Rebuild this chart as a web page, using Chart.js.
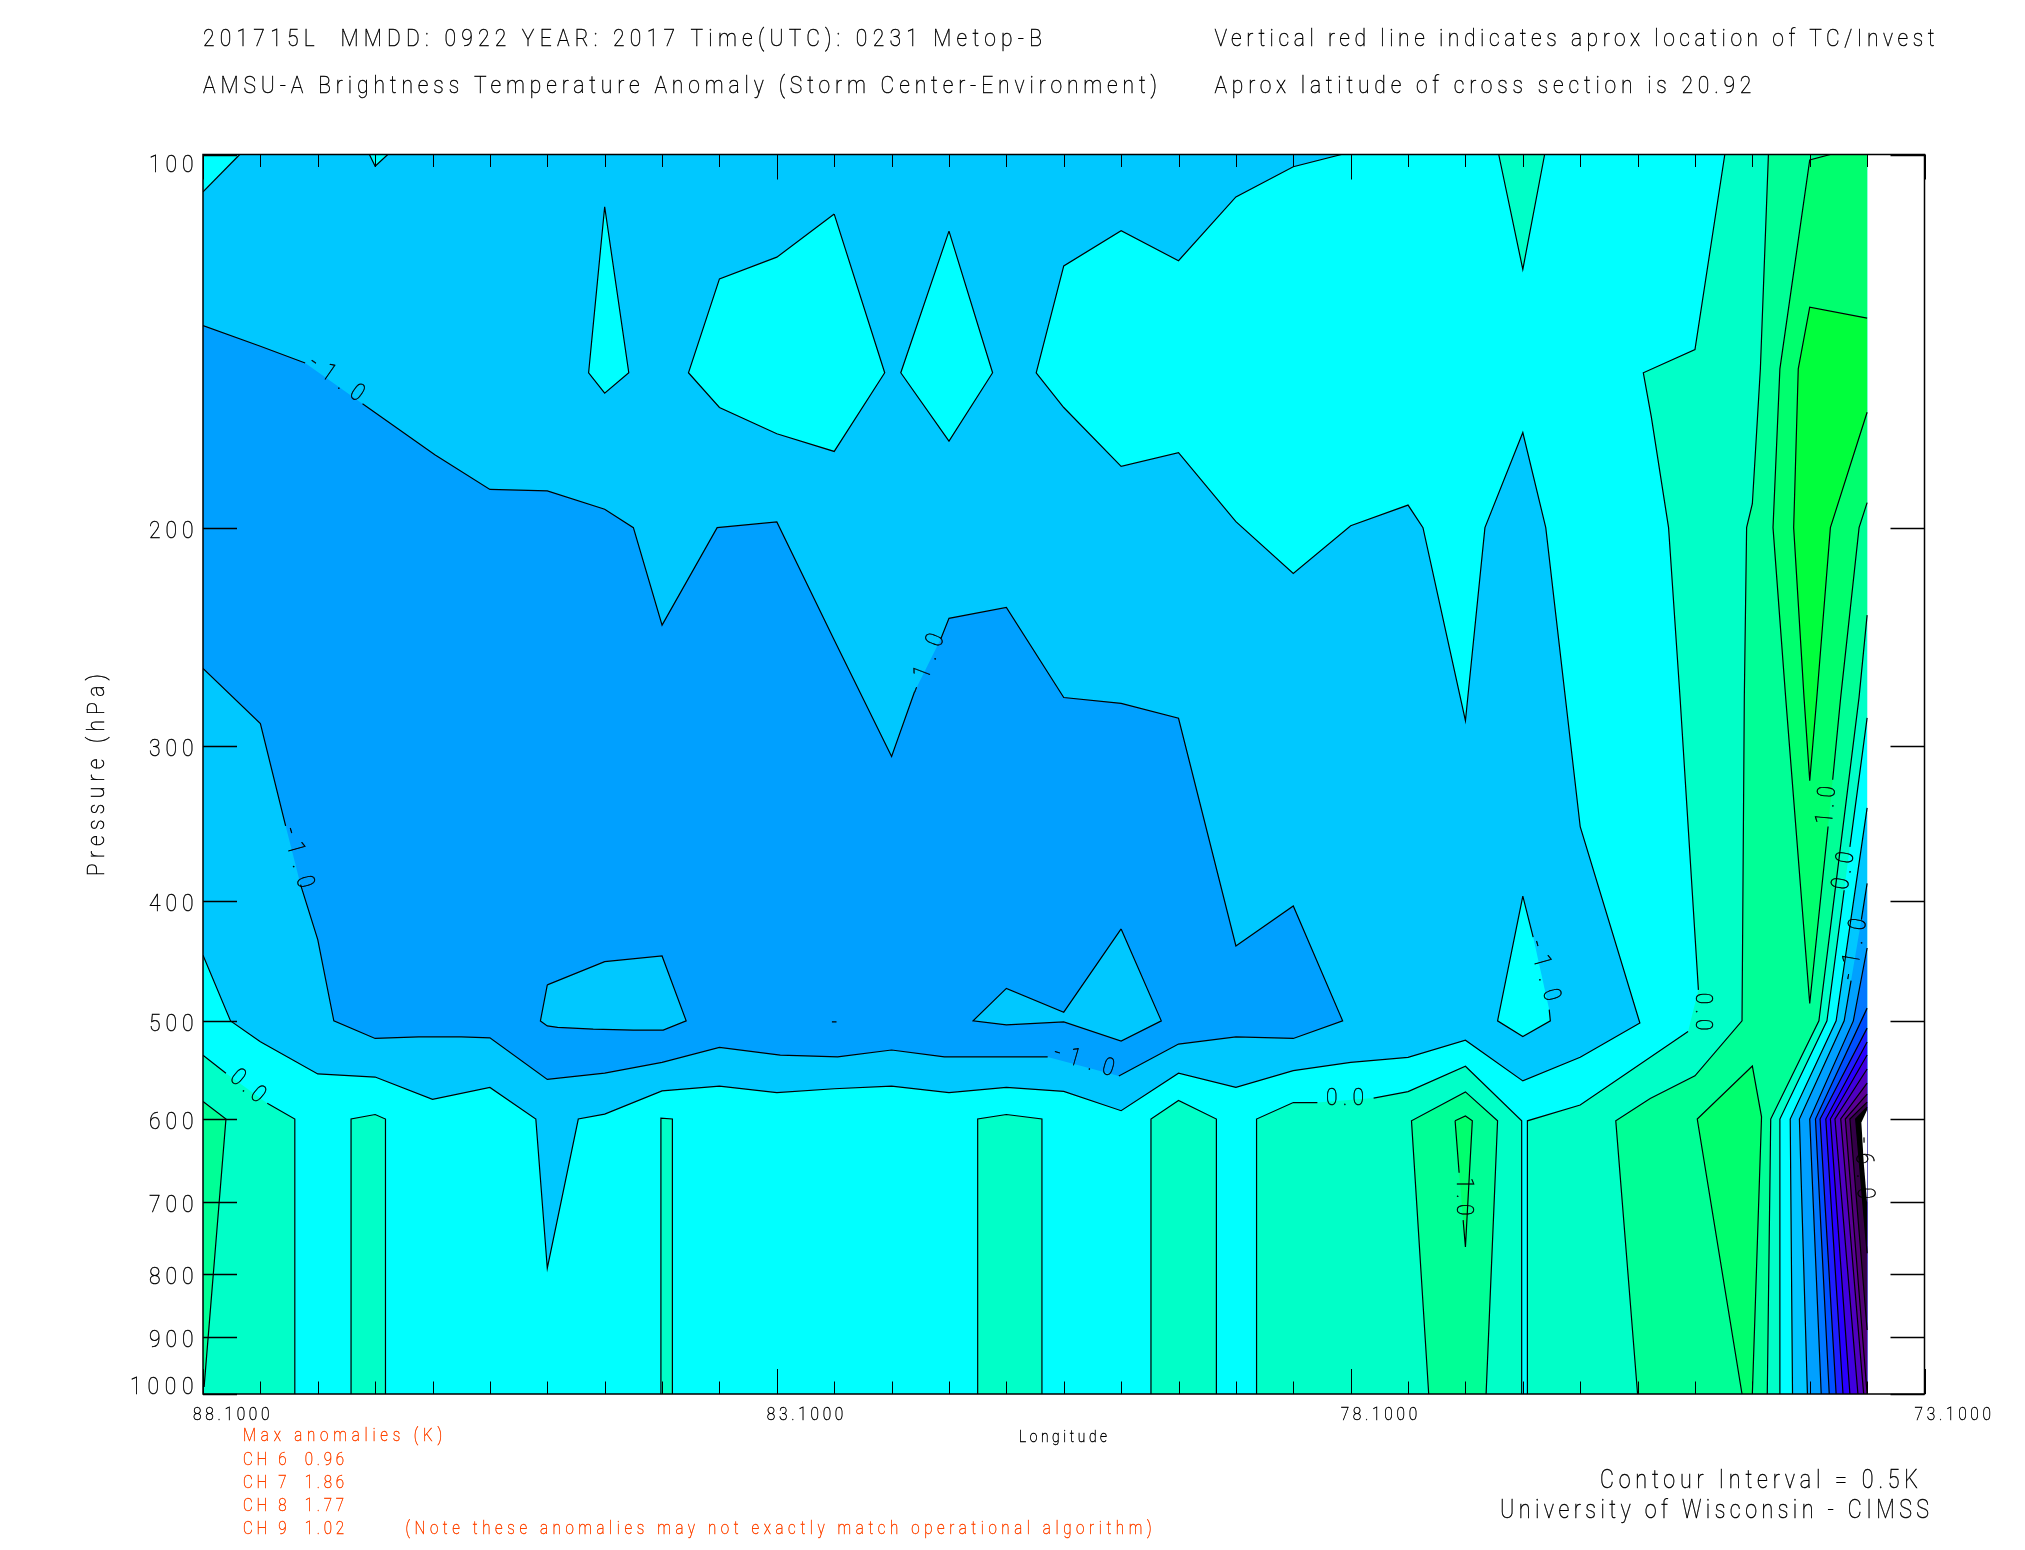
<!DOCTYPE html>
<html>
<head>
<meta charset="utf-8">
<title>AMSU-A Brightness Temperature Anomaly</title>
<script src="https://cdn.jsdelivr.net/npm/chart.js@4"></script>
<style>
html, body { margin: 0; padding: 0; background: #fff; }
#wrap { width: 2025px; height: 1550px; }
</style>
</head>
<body>
<div id="wrap"><canvas id="myChart" width="2025" height="1550"></canvas></div>
<script>
// axis values
var lonMin = 73.1, lonMax = 88.1, lonDataEnd = 73.6;
var presMin = 100, presMax = 1000;
var presTicks = [100, 200, 300, 400, 500, 600, 700, 800, 900, 1000];
var lonMajor = [88.1, 83.1, 78.1, 73.1];
var lonMinor = [87.6, 87.1, 86.6, 86.1, 85.6, 85.1, 84.6, 84.1, 83.6, 82.6, 82.1, 81.6, 81.1, 80.6, 80.1, 79.6, 79.1, 78.6, 77.6, 77.1, 76.6, 76.1, 75.6, 75.1, 74.6, 74.1, 73.6];

// contours as [longitude, pressure], null = gap in the line where a label sits
var dataBox = [[88.1, 100], [73.6, 100], [73.6, 1000], [88.1, 1000]];

// -0.5 K
var m05Main = [[78.18, 100], [78.6, 102.3], [79.1, 108.2], [79.6, 121.8], [80.1, 115.2], [80.6, 123], [80.84, 150], [80.6, 160], [80.1, 178.5], [79.6, 174], [79.1, 197.8], [78.6, 217.8], [78.1, 199.3], [77.6, 191.8], [77.47, 200], [77.1, 286.3], [76.93, 200], [76.6, 167.6], [76.4, 200], [76.1, 348.5], [75.58, 502], [76.1, 535], [76.6, 559], [77.1, 518.3], [77.6, 535], [78.1, 540], [78.6, 548.5], [79.1, 565.8], [79.6, 551], [80.1, 590.8], [80.6, 570], [81.1, 565.8], [81.6, 571.2], [82.1, 564.5], [82.6, 567.2], [83.1, 571.2], [83.6, 564.5], [84.1, 569.5], [84.6, 594.6], [84.83, 600], [85.1, 791.6], [85.2, 600], [85.6, 565.8], [86.1, 578.5], [86.6, 555], [87.1, 551.8], [87.6, 519.7], [87.86, 500], [88.1, 442.5]];
var m05MainClose = [[88.1, 1000], [73.6, 1000], [73.6, 100]];
var m05Corner = [[88.1, 107.2], [87.78, 100]];
var m05CornerClose = [[88.1, 100]];
var m05Notch = [[86.65, 100], [86.6, 102.2], [86.49, 100]];
var m05Spike = [[84.6, 110.2], [84.39, 150], [84.6, 155.8], [84.74, 150], [84.6, 110.2]];
var m05Blob = [[82.6, 111.7], [83.1, 121], [83.6, 126], [83.87, 150], [83.6, 160], [83.1, 168], [82.6, 173.6], [82.16, 150], [82.6, 111.7]];
var m05Diamond = [[81.6, 115.3], [81.22, 150], [81.6, 170.3], [82.02, 150], [81.6, 115.3]];
var m05Island = [[76.6, 396.5], [76.51, 427.9], null, [76.37, 489.7], [76.36, 500], [76.6, 514.7], [76.82, 500], [76.6, 396.5]];

// 0 K
var p00Left = [[88.1, 533], [87.9, 551], null, [87.54, 582.6], [87.3, 600], [87.3, 1000]];
var p00LeftClose = [[88.1, 1000]];
var p00A = [[86.81, 1000], [86.81, 600], [86.6, 595], [86.51, 600], [86.51, 1000]];
var p00B = [[84.11, 1000], [84.11, 599], [84.01, 600], [84.01, 1000]];
var p00C = [[81.35, 1000], [81.35, 600], [81.1, 595], [80.79, 600], [80.79, 1000]];
var p00D = [[79.84, 1000], [79.84, 600], [79.6, 579.6], [79.27, 600], [79.27, 1000]];
var p00E = [[78.92, 1000], [78.92, 600], [78.6, 581.9], [78.39, 581.9], null, [77.9, 577.1], [77.6, 570.2], [77.1, 544], [76.61, 602], [76.61, 1000]];
var p00Top = [[76.81, 100], [76.6, 123.8], [76.41, 100]];
var p00Right = [[74.84, 100], [75.1, 143.7], [75.55, 150], [75.48, 162.9], [75.33, 200], [75.23, 274.2], [75.07, 472], null, [75.16, 510], [76.1, 584.6], [76.56, 602], [76.56, 1000]];
var p00RightEdge = [[73.6, 284.8], [73.75, 361.9], null, [73.8, 392.3], [73.95, 500], [74.36, 600], [74.36, 1000]];

// 0.5 K
var p05Left = [[88.1, 580.7], [87.9, 600], [88.09, 986], [88.1, 986]];
var p05Mid = [[77.42, 1000], [77.57, 602], [77.1, 570.5], [76.82, 602], [76.92, 1000]];
var p05Right = [[74.46, 100], [74.53, 148.9], [74.6, 191.3], [74.65, 200], [74.67, 274], [74.69, 500], [75.1, 553.7], [75.49, 577.5], [75.79, 602], [75.6, 1000]];
var p05RightEdge = [[73.6, 235.3], [73.67, 274], [74.02, 500], [74.44, 600], [74.47, 1000]];

// 1 K
var p10Mid = [[77.19, 602], [77.1, 596.6], [77.04, 602], [77.1, 761], [77.12, 724], null, [77.155, 663], [77.19, 602]];
var p10Top = [[73.92, 100], [74.1, 101], [74.36, 148.9], [74.42, 200], [74.31, 274], [74.1, 484.1], [73.94, 348.5], null, [73.9, 319.5], [73.83, 274], [73.67, 200], [73.6, 190.9]];
var p10TopClose = [[73.6, 100]];
var p10Low = [[74.69, 1000], [75.08, 600], [74.6, 543.8], [74.52, 597.5], [74.6, 1000]];

// 1.5 K
var p15 = [[73.6, 135.5], [74.1, 132.8], [74.2, 148.9], [74.24, 200], [74.15, 274], [74.1, 320], [74.04, 275.5], [73.92, 200], [73.6, 161.4]];

// -1 K
var m10Main = [[88.1, 137.4], [87.6, 142.8], [87.21, 147.3], null, [86.71, 158.9], [86.08, 174.7], [85.6, 186.3], [85.1, 186.8], [84.6, 193.3], [84.35, 200], [84.1, 239.7], [83.62, 200], [83.1, 197.9], [82.6, 246.4], [82.1, 306], [81.9, 271.3], null, [81.67, 245.7], [81.6, 236.7], [81.1, 232], [80.6, 274.2], [80.1, 277.2], [79.6, 285], [79.1, 435], [78.6, 403.9], [78.17, 500], [78.6, 516.6], [79.1, 515], [79.6, 522], [80.12, 554], null, [80.74, 534.6], [80.94, 534.6], [81.64, 534.6], [82.1, 527.8], [82.57, 534.6], [82.85, 533.6], [83.07, 532.8], [83.6, 525.3], [84.1, 540], [84.6, 551], [85.1, 557.4], [85.6, 516], [85.85, 515], [86.22, 515], [86.6, 516.6], [86.96, 500], [87.1, 430], [87.25, 388.2], null, [87.38, 348], [87.6, 287.8], [88.1, 259.8]];
var m10HoleA = [[85.1, 467.7], [84.6, 447.9], [84.1, 443.2], [83.89, 500], [84.09, 508.6], [84.35, 508.6], [84.7, 507.7], [85.01, 506], [85.1, 504.7], [85.16, 500], [85.1, 467.7]];
var m10HoleB = [[80.1, 421.5], [79.75, 500], [80.1, 519.2], [80.6, 501], [81.1, 503.7], [81.39, 500], [81.1, 470.7], [80.6, 492], [80.1, 421.5]];
var m10Speck = [[82.62, 501], [82.58, 501]];

// right hand edge, one line per level, all closed along the edge of the data
var edgeM05 = [[73.6, 336.6], [73.87, 500], [74.27, 600], [74.25, 1000]];
var edgeM10 = [[73.6, 387.3], [73.65, 414.3], null, [73.74, 464], [73.8, 500], [74.19, 600], [74.12, 1000]];
var edgeM15 = [[73.6, 436.7], [73.72, 500], [74.1, 600], [74.0, 1000]];
var edgeM20 = [[73.6, 488.3], [74.05, 600], [73.93, 1000]];
var edgeM25 = [[73.6, 506.8], [74.01, 600], [73.87, 1000]];
var edgeM30 = [[73.6, 520], [73.96, 600], [73.81, 1000]];
var edgeM35 = [[73.6, 532.7], [73.92, 600], [73.75, 1000]];
var edgeM40 = [[73.6, 546.8], [73.88, 600], [73.68, 1000]];
var edgeM45 = [[73.6, 561.2], [73.83, 600], [73.63, 1000]];
var edgeM50 = [[73.6, 572.8], [73.79, 600], [73.6, 1000]];
var edgeM55 = [[73.6, 581.4], [73.75, 600], [73.6, 888]];
var edgeM60 = [[73.6, 586.9], [73.7, 600], [73.6, 770]];
var edgeWhite = [[73.6, 590], [73.65, 604], [73.63, 650], [73.6, 701]];

// contour labels
var labelText = ["-1.0", "-1.0", "-1.0", "-1.0", "-1.0", "0.0", "0.0", "0.0", "1.0", "0.0", "-1.0", "-6.0", "1.0"];
var labelLon = [86.93, 87.26, 81.81, 80.42, 76.4, 87.7, 78.15, 75.01, 73.97, 73.82, 73.73, 73.61, 77.1];
var labelPres = [151.2, 368.8, 257.2, 536.8, 455, 563, 575.4, 491.5, 334.8, 378, 437.5, 657.2, 693];

// channel maxima
var channels = ["CH 6", "CH 7", "CH 8", "CH 9"];
var channelMax = ["0.96", "1.86", "1.77", "1.02"];

// colours of the levels
var cM05 = "#00c8ff", cP = "#00ffff", cP00 = "#00ffc8", cP05 = "#00ff96", cP10 = "#00ff6e", cP15 = "#00ff3c";
var cM10 = "#00a0ff", cM15 = "#0078ff", cM20 = "#0050ff", cM25 = "#1e1eff", cM30 = "#2800ff", cM35 = "#4000e0", cM40 = "#5000c0", cM45 = "#5a0096", cM50 = "#500078", cM55 = "#340048", cM60 = "#000000";

function pts(a) {
    return a.map(function(p) { return p ? {x: p[0], y: p[1]} : {x: null, y: null}; });
}
function solid(a) {
    return a.filter(function(p) { return p; });
}

var datasets = [];
var lines = [];

// fill one region, and keep its contour for later so fills never cover a line
function region(line, closing, color, lastLine) {
    var edge = solid(line).concat(closing || []);
    if (lastLine) edge = edge.concat(solid(lastLine).reverse(), [[lonDataEnd, presMin]]);
    datasets.push({
        data: pts(edge), showLine: true, fill: "shape", backgroundColor: color,
        borderWidth: 0, borderColor: "rgba(0,0,0,0)", pointRadius: 0
    });
    if (line.length) lines.push(line);
    if (lastLine) lines.push(lastLine);
}

region(dataBox, null, cM05);
lines.pop();
region(m05Main, m05MainClose, cP);
region(m05Corner, m05CornerClose, cP);
region(m05Notch, null, cP);
region(m05Spike, null, cP);
region(m05Blob, null, cP);
region(m05Diamond, null, cP);
region(p00Left, p00LeftClose, cP00);
region(p00A, null, cP00);
region(p00B, null, cP00);
region(p00C, null, cP00);
region(p00D, null, cP00);
region(p00E, null, cP00);
region(p00Top, null, cP00);
region(p00Right, null, cP00, p00RightEdge);
region(p05Left, null, cP05);
region(p05Mid, null, cP05);
region(p05Right, null, cP05, p05RightEdge);
region(p10Mid, null, cP10);
region(p10Top, p10TopClose, cP10);
region(p10Low, null, cP10);
region(p15, null, cP15);
region(edgeM05, [[73.6, 1000]], cM05);
region(m10Main, null, cM10);
region(m10HoleA, null, cM05);
region(m10HoleB, null, cM05);
region(m05Island, null, cP);
region(edgeM10, [[73.6, 1000]], cM10);
region(edgeM15, [[73.6, 1000]], cM15);
region(edgeM20, [[73.6, 1000]], cM20);
region(edgeM25, [[73.6, 1000]], cM25);
region(edgeM30, [[73.6, 1000]], cM30);
region(edgeM35, [[73.6, 1000]], cM35);
region(edgeM40, [[73.6, 1000]], cM40);
region(edgeM45, [[73.6, 1000]], cM45);
region(edgeM50, null, cM50);
region(edgeM55, null, cM55);
region(edgeM60, null, cM60);
region(edgeWhite, null, "#ffffff");
lines.pop();
lines.push(m10Speck);

lines.forEach(function(l) {
    datasets.push({
        data: pts(l), showLine: true, fill: false, spanGaps: false,
        borderColor: "#000", borderWidth: 1.2, pointRadius: 0
    });
});
datasets.forEach(function(d, i) { d.order = datasets.length - i; });

var squeeze = 0.86;

// narrow text, spaced out to a given width, like the plot's stroke font
function say(ctx, text, x, y, width, size, color, angle, center) {
    ctx.save();
    ctx.font = "100 " + size + 'px "Roboto", "Liberation Sans Narrow", sans-serif';
    ctx.fillStyle = color || "#000";
    ctx.strokeStyle = color || "#000";
    ctx.lineWidth = 0.45;
    ctx.textBaseline = "alphabetic";
    ctx.textAlign = "left";
    var w = ctx.measureText(text).width;
    ctx.letterSpacing = ((width / squeeze - w) / (text.length - 1)) + "px";
    ctx.translate(x, y);
    if (angle) ctx.rotate(angle * Math.PI / 180);
    ctx.scale(squeeze, 1);
    var tx = center ? -width / squeeze / 2 : 0, ty = center ? size * 0.36 : 0;
    ctx.fillText(text, tx, ty);
    ctx.strokeText(text, tx, ty);
    ctx.restore();
}

var chartText = {
    id: "chartText",
    afterDatasetsDraw: function(chart) {
        var ctx = chart.ctx, xs = chart.scales.x, ys = chart.scales.y, a = chart.chartArea;
        ctx.save();
        ctx.strokeStyle = "#000";
        ctx.lineWidth = 1;
        // ticks inside the frame, on all four sides
        lonMinor.concat(lonMajor).forEach(function(v) {
            var len = lonMajor.indexOf(v) >= 0 ? 25 : 12.5;
            var px = Math.round(xs.getPixelForValue(v)) + 0.5;
            ctx.beginPath();
            ctx.moveTo(px, a.top); ctx.lineTo(px, a.top + len);
            ctx.moveTo(px, a.bottom); ctx.lineTo(px, a.bottom - len);
            ctx.stroke();
        });
        ctx.lineWidth = 1.3;
        presTicks.forEach(function(v) {
            var py = Math.round(ys.getPixelForValue(v)) + 0.5;
            ctx.beginPath();
            ctx.moveTo(a.left, py); ctx.lineTo(a.left + 34, py);
            ctx.moveTo(a.right, py); ctx.lineTo(a.right - 34, py);
            ctx.stroke();
        });
        ctx.lineWidth = 1.5;
        ctx.strokeRect(a.left, a.top, a.right - a.left, a.bottom - a.top);
        ctx.restore();

        // tick labels
        presTicks.forEach(function(v) {
            var py = ys.getPixelForValue(v) + 10;
            var wide = String(v).length > 3 ? 63.5 : 44.6;
            if (v == presMin) py = a.top + 17.5;
            if (v == presMax) py = a.bottom - 0.5;
            say(ctx, String(v), 193.6 - wide, py, wide, 24.5);
        });
        lonMajor.forEach(function(v) {
            say(ctx, v.toFixed(4), xs.getPixelForValue(v) - 10, 1420, 76.5, 18);
        });

        // contour labels
        var labelAngle = [35, 74, -69, 16, 74, 40, 0, 90, -85, -80, -80, 88, 90];
        labelText.forEach(function(t, i) {
            say(ctx, t, xs.getPixelForValue(labelLon[i]), ys.getPixelForValue(labelPres[i]),
                t.length > 3 ? 62 : 38, 24.5, "#000", labelAngle[i], true);
        });

        // titles
        say(ctx, "201715L  MMDD: 0922 YEAR: 2017 Time(UTC): 0231 Metop-B", 203, 46, 839, 24.5);
        say(ctx, "AMSU-A Brightness Temperature Anomaly (Storm Center-Environment)", 203, 93, 954, 24.5);
        say(ctx, "Vertical red line indicates aprox location of TC/Invest", 1214.4, 46, 720, 24.5);
        say(ctx, "Aprox latitude of cross section is 20.92", 1214.4, 93, 537, 24.5);
        say(ctx, "Pressure (hPa)", 95, 775, 202, 24.5, "#000", -90, true);
        say(ctx, "Longitude", 1019, 1442, 88, 16);

        // red notes
        var red = "#ff4500";
        say(ctx, "Max anomalies (K)", 243, 1441, 199, 17.6, red);
        channels.forEach(function(c, i) {
            say(ctx, c + "  " + channelMax[i], 243, 1465 + i * 23, 101, 17.6, red);
        });
        say(ctx, "(Note these anomalies may not exactly match operational algorithm)", 405.5, 1534, 746, 17.6, red);

        say(ctx, "Contour Interval = 0.5K", 1600, 1487.7, 318, 25);
        say(ctx, "University of Wisconsin - CIMSS", 1500, 1518, 429, 25);
    }
};

var ctx = document.getElementById("myChart");
var myChart = new Chart(ctx, {
    type: "scatter",
    data: { datasets: datasets },
    plugins: [chartText],
    options: {
        responsive: false,
        animation: false,
        devicePixelRatio: 1,
        layout: { padding: { left: 203, top: 154.5, right: 100.5, bottom: 156 } },
        plugins: { legend: { display: false }, tooltip: { enabled: false } },
        scales: {
            x: { type: "linear", reverse: true, min: lonMin, max: lonMax, display: false },
            y: { type: "logarithmic", reverse: true, min: presMin, max: presMax, display: false }
        }
    }
});
</script>
</body>
</html>
